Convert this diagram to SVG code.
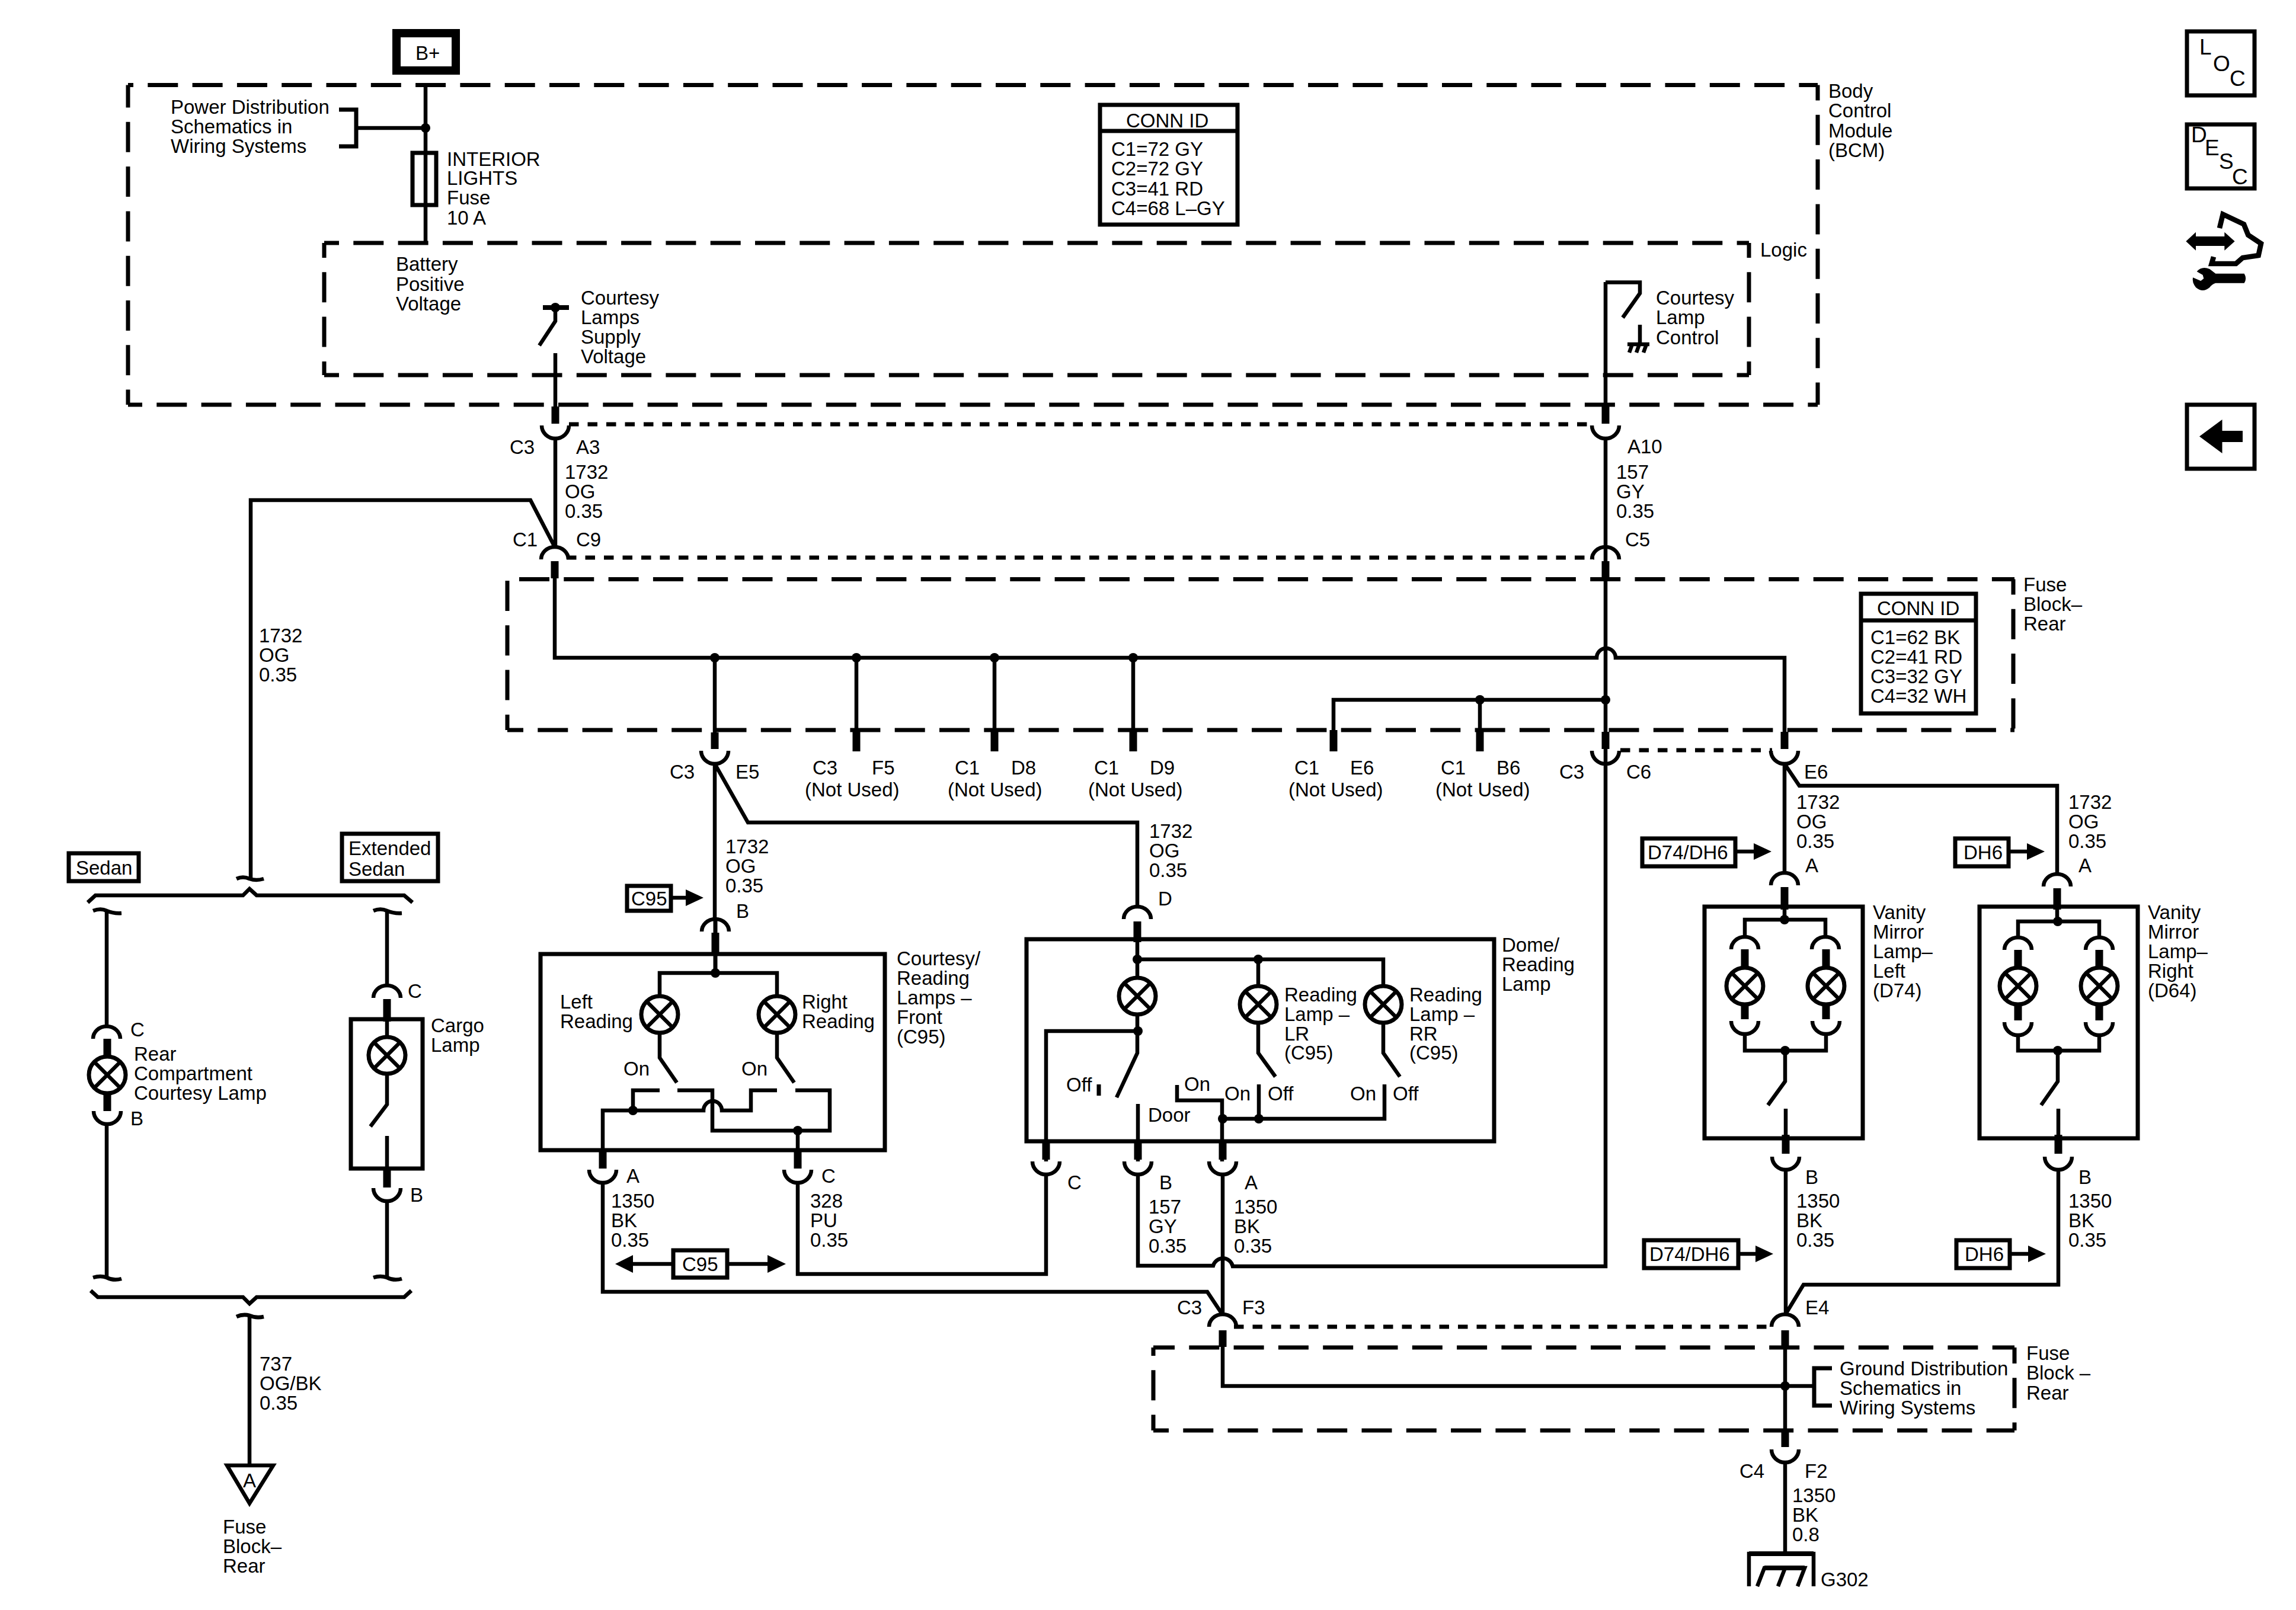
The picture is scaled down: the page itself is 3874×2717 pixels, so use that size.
<svg xmlns="http://www.w3.org/2000/svg" xmlns:xlink="http://www.w3.org/1999/xlink" width="3874" height="2717" viewBox="0 0 3874 2717">
<style>
text{font-family:"Liberation Sans",Arial,sans-serif;font-size:33px;fill:#000}
.big{font-size:37px}
.w,.w *{fill:none;stroke:#000;stroke-width:6.5;stroke-linejoin:miter}
.s{fill:none;stroke:#000;stroke-width:13}
.d{fill:none;stroke:#000;stroke-width:7;stroke-dasharray:51 24.3}
.o{fill:none;stroke:#000;stroke-width:7;stroke-dasharray:16.5 15}
.b{fill:none;stroke:#000;stroke-width:7}
.f{fill:#000;stroke:none}
.l{fill:#fff;stroke:#000;stroke-width:7}
.n{fill:none;stroke:#000;stroke-width:6.5}
</style>
<defs>
<g id="lamp"><circle r="31" class="l"/><path class="n" d="M-22,-22L22,22M22,-22L-22,22"/></g>
<path id="cap" class="n" d="M-23,21A23,21 0 0 1 23,21"/>
<path id="cup" class="n" d="M-23,0A23,22 0 0 0 23,0"/>
<circle id="dot" r="8" class="f"/>
<path id="arr" class="f" d="M0,-14L30,0L0,14Z"/>
</defs>
<rect width="3874" height="2717" fill="#fff"/>

<g id="connectors">
<g class="w">
<path d="M718,143V410M601,216H718"/>
<path d="M937,596V690"/>
<path d="M937,740V925M423,1481V844H895L936,923"/>
<path d="M2709,476V690M2709,740V2137H2080A17,17 0 0 0 2047,2136H1920V1981"/>
<path d="M936,976V1110H2694A16,16 0 0 1 2726,1110H3011V1240"/>
<path d="M2250,1240V1181H2709M2497,1181V1240"/>
<path d="M1206,1110V1240M1445,1110V1240M1678,1110V1240M1912,1110V1240"/>
<path d="M1206,1289V1552M1206,1289L1262,1388H1919V1530"/>
<path d="M3011,1289V1475M3011,1289L3036,1326H3471V1475"/>
<path d="M1017,1996V2180H2037L2063,2219M2063,1981V2219M1346,1996V2150H1765V1981"/>
<path d="M3013,1975V2219M3473,1975V2168H3043L3012,2219"/>
<path d="M2063,2270V2339H3061M3012,2270V2440M3012,2470V2622"/>
<path d="M421,1481V1483M421,2220V2470"/>
<path d="M180,1537V1732M180,1897V2156M653,1537V1662M653,2026V2156"/>
</g>
<g id="module-shorts" class="s">
<path d="M937,686V715M2709,686V715M936,947V976M2709,947V976"/>
<path d="M1206,1236V1264M1445,1232V1268M1678,1232V1268M1912,1232V1268M2250,1232V1268M2497,1232V1268M2709,1235V1264M3011,1235V1264"/>
<path d="M2063,2245V2273M3012,2245V2273M3012,2414V2442"/>
</g>
<path class="o" d="M960,716H2690"/>
<path class="o" d="M956,941H2690"/>
<path class="o" d="M2734,1266H2990"/>
<path class="o" d="M2082,2239H2992"/>
<use xlink:href="#cup" x="937" y="718"/><use xlink:href="#cup" x="2709" y="718"/>
<use xlink:href="#cap" x="936" y="923"/><use xlink:href="#cap" x="2709" y="923"/>
<use xlink:href="#cup" x="1206" y="1267"/><use xlink:href="#cup" x="2709" y="1267"/><use xlink:href="#cup" x="3011" y="1267"/>
<use xlink:href="#cap" x="2063" y="2218"/><use xlink:href="#cap" x="3012" y="2218"/>
<use xlink:href="#cup" x="3012" y="2446"/>
<use xlink:href="#dot" x="718" y="216"/>
<use xlink:href="#dot" x="1206" y="1110"/><use xlink:href="#dot" x="1445" y="1110"/><use xlink:href="#dot" x="1678" y="1110"/><use xlink:href="#dot" x="1912" y="1110"/>
<use xlink:href="#dot" x="2497" y="1181"/><use xlink:href="#dot" x="2709" y="1181"/><use xlink:href="#dot" x="3012" y="2339"/>
</g>

<g id="b-plus"><rect x="669" y="56" width="100" height="63" class="b" style="stroke-width:14"/><text x="701" y="101">B+</text></g>

<g id="bcm">
<path class="d" style="stroke-dashoffset:42" d="M216,143.500H3067"/>
<path class="d" style="stroke-dashoffset:13" d="M216,143.500V683"/>
<path class="d" style="stroke-dashoffset:27" d="M216,683H3067"/>
<path class="d" style="stroke-dashoffset:25" d="M3067,143.500V683"/>
<text x="3085" y="165">Body</text><text x="3085" y="198">Control</text><text x="3085" y="232">Module</text><text x="3085" y="265">(BCM)</text>
</g>
<g id="logic">
<path class="d" style="stroke-dashoffset:26" d="M547,410H2951"/>
<path class="d" style="stroke-dashoffset:26" d="M547,410V633"/>
<path class="d" style="stroke-dashoffset:26" d="M547,633H2951"/>
<path class="d" style="stroke-dashoffset:26" d="M2951,410V633"/>
<text x="2970" y="433">Logic</text>
<text x="668" y="457">Battery</text><text x="668" y="491">Positive</text><text x="668" y="524">Voltage</text>
</g>
<g id="power-dist">
<path class="n" d="M572,185H601V247H572" style="stroke-width:7"/>
<text x="288" y="192">Power Distribution</text><text x="288" y="225">Schematics in</text><text x="288" y="258">Wiring Systems</text>
</g>
<g id="fuse">
<rect x="696" y="258" width="40" height="88" class="b"/>
<text x="754" y="280">INTERIOR</text><text x="754" y="312">LIGHTS</text><text x="754" y="345">Fuse</text><text x="754" y="379">10 A</text>
</g>
<g id="supply-switch">
<path class="n" d="M916,519H960" style="stroke-width:8"/><path class="n" d="M937,519V542L910,583"/>
<use xlink:href="#dot" x="937" y="519"/>
<text x="980" y="514">Courtesy</text><text x="980" y="547">Lamps</text><text x="980" y="580">Supply</text><text x="980" y="613">Voltage</text>
</g>
<g id="control-switch">
<path class="n" d="M2709,476.500H2767V495L2738,536M2767,548V581M2746,581H2783M2754,581L2749,595M2766,581L2761,595M2778,581L2773,595"/>
<text x="2794" y="514">Courtesy</text><text x="2794" y="547">Lamp</text><text x="2794" y="581">Control</text>
</g>
<g id="conn-id-bcm">
<rect x="1856" y="177" width="232" height="202" class="b"/><path class="b" d="M1856,221H2088"/>
<text x="1900" y="215">CONN ID</text><text x="1875" y="263">C1=72 GY</text><text x="1875" y="296">C2=72 GY</text><text x="1875" y="330">C3=41 RD</text><text x="1875" y="363">C4=68 L–GY</text>
</g>
<g id="icons">
<rect x="3690" y="53" width="114" height="108" class="b"/>
<text class="big" x="3711" y="92">L</text><text class="big" x="3734" y="120">O</text><text class="big" x="3762" y="145">C</text>
<rect x="3690" y="210" width="114" height="108" class="b"/>
<text class="big" x="3697" y="240">D</text><text class="big" x="3720" y="262">E</text><text class="big" x="3744" y="285">S</text><text class="big" x="3766" y="311">C</text>
<g transform="translate(3660,330) scale(0.3333)">
<path class="f" d="M85,232L135,185V207H280V185L332,232L280,278V255H135V278Z"/>
<path fill="none" stroke="#000" stroke-width="26" d="M255,165L272,95L378,145L400,200L465,243L452,303L372,315L338,345H215L225,310"/>
<path class="f" d="M140,385Q165,355 205,372L235,395H380Q395,420 380,443H235Q215,450 205,465Q170,495 135,465Q115,440 120,415L160,432L175,420L170,402Z"/>
</g>
<rect x="3690" y="683" width="114" height="108" class="b"/>
<path class="f" d="M3711,736.500L3749.500,708V727H3784V746H3749.500V765Z"/>
</g>

<g id="labels-top">
<text x="860" y="766">C3</text><text x="972" y="766">A3</text>
<text x="953" y="808">1732</text><text x="953" y="841">OG</text><text x="953" y="874">0.35</text>
<text x="2746" y="765">A10</text>
<text x="2727" y="808">157</text><text x="2727" y="841">GY</text><text x="2727" y="874">0.35</text>
<text x="865" y="922">C1</text><text x="972" y="922">C9</text><text x="2742" y="922">C5</text>
<text x="437" y="1084">1732</text><text x="437" y="1117">OG</text><text x="437" y="1150">0.35</text>
</g>

<g id="fuse-block-rear">
<path class="d" d="M876,977.500H3399"/>
<path class="d" d="M856,980V1232"/>
<path class="d" style="stroke-dashoffset:24" d="M856,1232H3399"/>
<path class="d" style="stroke-dashoffset:25" d="M3397,977.500V1232"/>
<text x="3414" y="998">Fuse</text><text x="3414" y="1031">Block–</text><text x="3414" y="1064">Rear</text>
</g>
<g id="conn-id-fuse">
<rect x="3140" y="1002" width="194" height="202" class="b"/><path class="b" d="M3140,1047H3334"/>
<text x="3167" y="1038">CONN ID</text><text x="3156" y="1087">C1=62 BK</text><text x="3156" y="1120">C2=41 RD</text><text x="3156" y="1153">C3=32 GY</text><text x="3156" y="1186">C4=32 WH</text>
</g>
<g id="not-used">
<text x="1130" y="1314">C3</text><text x="1241" y="1314">E5</text>
<text x="1371" y="1307">C3</text><text x="1471" y="1307">F5</text><text x="1358" y="1344">(Not Used)</text>
<text x="1611" y="1307">C1</text><text x="1706" y="1307">D8</text><text x="1599" y="1344">(Not Used)</text>
<text x="1846" y="1307">C1</text><text x="1940" y="1307">D9</text><text x="1836" y="1344">(Not Used)</text>
<text x="2184" y="1307">C1</text><text x="2278" y="1307">E6</text><text x="2174" y="1344">(Not Used)</text>
<text x="2431" y="1307">C1</text><text x="2525" y="1307">B6</text><text x="2422" y="1344">(Not Used)</text>
<text x="2631" y="1314">C3</text><text x="2744" y="1314">C6</text><text x="3044" y="1314">E6</text>
</g>

<g id="courtesy-front">
<use xlink:href="#cap" x="1207" y="1551"/>
<path class="s" d="M1207,1574V1610"/>
<path class="b" d="M1207,1552V1642"/>
<rect x="912" y="1610" width="581" height="331" class="b"/>
<path class="n" d="M1113,1680V1642H1311V1680M1113,1744V1785L1142,1827M1311,1744V1785L1340,1827"/>
<use xlink:href="#dot" x="1207" y="1642"/>
<use xlink:href="#lamp" x="1113" y="1712"/><use xlink:href="#lamp" x="1311" y="1712"/>
<path class="n" d="M1017,1950V1874H1187A15.500,16 0 0 1 1218,1874H1267V1840H1311M1068,1874V1840H1113M1143,1840H1202V1908H1400V1840H1342M1346,1908V1950"/>
<use xlink:href="#dot" x="1068" y="1874"/><use xlink:href="#dot" x="1346" y="1908"/>
<path class="s" d="M1017,1941V1972M1346,1941V1972"/>
<use xlink:href="#cup" x="1017" y="1974"/><use xlink:href="#cup" x="1346" y="1974"/>
<text x="945" y="1702">Left</text><text x="945" y="1735">Reading</text>
<text x="1353" y="1702">Right</text><text x="1353" y="1735">Reading</text>
<text x="1052" y="1815">On</text><text x="1251" y="1815">On</text>
<text x="1513" y="1629">Courtesy/</text><text x="1513" y="1662">Reading</text><text x="1513" y="1695">Lamps –</text><text x="1513" y="1728">Front</text><text x="1513" y="1761">(C95)</text>
<text x="1224" y="1440">1732</text><text x="1224" y="1473">OG</text><text x="1224" y="1506">0.35</text><text x="1242" y="1549">B</text>
<text x="1057" y="1996">A</text><text x="1386" y="1996">C</text>
<text x="1031" y="2038">1350</text><text x="1031" y="2071">BK</text><text x="1031" y="2104">0.35</text>
<text x="1367" y="2038">328</text><text x="1367" y="2071">PU</text><text x="1367" y="2104">0.35</text>
</g>
<g id="option-c95-top">
<rect x="1058" y="1495" width="74" height="42" class="b"/><text x="1065" y="1528">C95</text>
<path class="n" d="M1134,1515H1160"/><use xlink:href="#arr" x="1157" y="1515"/>
</g>
<g id="option-c95-both">
<rect x="1136" y="2110" width="91" height="46" class="b"/><text x="1151" y="2145">C95</text>
<path class="n" d="M1068,2133H1133M1227,2133H1295"/>
<path class="f" d="M1038,2133L1068,2118V2148ZM1326,2133L1295,2118V2148Z"/>
</g>

<g id="dome">
<use xlink:href="#cap" x="1919" y="1530"/>
<path class="s" d="M1919,1555V1590"/>
<rect x="1732" y="1585" width="789" height="341" class="b"/>
<path class="n" d="M1919,1590V1650M1919,1712V1777L1884,1852M1920,1740H1765V1960M1920,1863V1960M1919,1619H2334V1664M2123,1619V1664M2123,1726V1777L2152,1817M2334,1726V1777L2362,1817"/>
<use xlink:href="#dot" x="1919" y="1619"/><use xlink:href="#dot" x="2123" y="1619"/><use xlink:href="#dot" x="1920" y="1740"/>
<use xlink:href="#lamp" x="1919" y="1681"/><use xlink:href="#lamp" x="2123" y="1695"/><use xlink:href="#lamp" x="2334" y="1695"/>
<path class="n" d="M1854,1830V1849" style="stroke-width:7"/>
<path class="n" d="M1986,1831V1857H2062V1960M2063,1888H2336V1830M2124,1888V1830"/>
<use xlink:href="#dot" x="2063" y="1888"/><use xlink:href="#dot" x="2124" y="1888"/>
<path class="s" d="M1765,1926V1957M1920,1926V1957M2063,1926V1957"/>
<use xlink:href="#cup" x="1765" y="1960"/><use xlink:href="#cup" x="1920" y="1960"/><use xlink:href="#cup" x="2063" y="1960"/>
<text x="2167" y="1690">Reading</text><text x="2167" y="1723">Lamp –</text><text x="2167" y="1756">LR</text><text x="2167" y="1788">(C95)</text>
<text x="2378" y="1690">Reading</text><text x="2378" y="1723">Lamp –</text><text x="2378" y="1756">RR</text><text x="2378" y="1788">(C95)</text>
<text x="1799" y="1842">Off</text><text x="1998" y="1841">On</text><text x="2066" y="1857">On</text><text x="2139" y="1857">Off</text><text x="2278" y="1857">On</text><text x="2350" y="1857">Off</text>
<text x="1937" y="1893">Door</text>
<text x="2534" y="1606">Dome/</text><text x="2534" y="1639">Reading</text><text x="2534" y="1672">Lamp</text>
<text x="1939" y="1414">1732</text><text x="1939" y="1447">OG</text><text x="1939" y="1480">0.35</text><text x="1954" y="1528">D</text>
<text x="1801" y="2007">C</text><text x="1956" y="2007">B</text><text x="2100" y="2007">A</text>
<text x="1938" y="2048">157</text><text x="1938" y="2081">GY</text><text x="1938" y="2114">0.35</text>
<text x="2082" y="2048">1350</text><text x="2082" y="2081">BK</text><text x="2082" y="2114">0.35</text>
</g>

<g id="vanity-left">
<use xlink:href="#cap" x="3011" y="1473"/>
<path class="s" d="M3011,1497V1535"/>
<rect x="2876" y="1530" width="267" height="391" class="b"/>
<path class="n" d="M3011,1530V1552M2944,1581V1552H3080V1581M2944,1745V1773H3081V1745M3012,1773V1825L2983,1865M3013,1871V1925"/>
<use xlink:href="#dot" x="3011" y="1552"/><use xlink:href="#dot" x="3012" y="1773"/>
<use xlink:href="#cap" x="2944" y="1581"/><use xlink:href="#cap" x="3080" y="1581"/>
<path class="s" d="M2944,1602V1640M3081,1602V1640M2944,1690V1720M3081,1690V1720"/>
<use xlink:href="#lamp" x="2944" y="1664"/><use xlink:href="#lamp" x="3081" y="1664"/>
<use xlink:href="#cup" x="2944" y="1723"/><use xlink:href="#cup" x="3081" y="1723"/>
<path class="s" d="M3013,1915V1947"/>
<use xlink:href="#cup" x="3013" y="1952"/>
<text x="3160" y="1551">Vanity</text><text x="3160" y="1584">Mirror</text><text x="3160" y="1617">Lamp–</text><text x="3160" y="1650">Left</text><text x="3160" y="1683">(D74)</text>
<text x="3031" y="1365">1732</text><text x="3031" y="1398">OG</text><text x="3031" y="1431">0.35</text><text x="3046" y="1472">A</text>
<text x="3046" y="1998">B</text><text x="3031" y="2038">1350</text><text x="3031" y="2071">BK</text><text x="3031" y="2104">0.35</text>
</g>
<g id="vanity-right">
<use xlink:href="#cap" x="3471" y="1475"/>
<path class="s" d="M3471,1499V1535"/>
<rect x="3340" y="1530" width="267" height="391" class="b"/>
<path class="n" d="M3471,1530V1555M3405,1583V1555H3542V1583M3405,1745V1773H3542V1745M3472,1773V1825L3444,1865M3473,1871V1925"/>
<use xlink:href="#dot" x="3472" y="1555"/><use xlink:href="#dot" x="3472" y="1773"/>
<use xlink:href="#cap" x="3405" y="1582"/><use xlink:href="#cap" x="3542" y="1582"/>
<path class="s" d="M3405,1603V1640M3542,1603V1640M3405,1690V1722M3542,1690V1722"/>
<use xlink:href="#lamp" x="3405" y="1664"/><use xlink:href="#lamp" x="3542" y="1664"/>
<use xlink:href="#cup" x="3405" y="1725"/><use xlink:href="#cup" x="3542" y="1725"/>
<path class="s" d="M3473,1915V1947"/>
<use xlink:href="#cup" x="3473" y="1952"/>
<text x="3624" y="1551">Vanity</text><text x="3624" y="1584">Mirror</text><text x="3624" y="1617">Lamp–</text><text x="3624" y="1650">Right</text><text x="3624" y="1683">(D64)</text>
<text x="3490" y="1365">1732</text><text x="3490" y="1398">OG</text><text x="3490" y="1431">0.35</text><text x="3507" y="1472">A</text>
<text x="3507" y="1998">B</text><text x="3490" y="2038">1350</text><text x="3490" y="2071">BK</text><text x="3490" y="2104">0.35</text>
</g>
<g id="options-right">
<rect x="2771" y="1415" width="157" height="47" class="b"/><text x="2780" y="1450">D74/DH6</text>
<path class="n" d="M2931,1437H2962"/><use xlink:href="#arr" x="2959" y="1437"/>
<rect x="3299" y="1415" width="90" height="47" class="b"/><text x="3313" y="1450">DH6</text>
<path class="n" d="M3392,1437H3423"/><use xlink:href="#arr" x="3420" y="1437"/>
<rect x="2774" y="2093" width="159" height="47" class="b"/><text x="2783" y="2128">D74/DH6</text>
<path class="n" d="M2936,2116H2965"/><use xlink:href="#arr" x="2962" y="2116"/>
<rect x="3301" y="2093" width="90" height="47" class="b"/><text x="3315" y="2128">DH6</text>
<path class="n" d="M3394,2116H3425"/><use xlink:href="#arr" x="3422" y="2116"/>
</g>

<g id="ground-block">
<path class="d" style="stroke-dashoffset:15" d="M1946,2274H3399"/>
<path class="d" style="stroke-dashoffset:37" d="M1946,2274V2414"/>
<path class="d" style="stroke-dashoffset:25" d="M1946,2414H3399"/>
<path class="d" style="stroke-dashoffset:24" d="M3399,2274V2414"/>
<path class="n" d="M3091,2309H3061V2372H3091" style="stroke-width:7"/>
<text x="3104" y="2321">Ground Distribution</text><text x="3104" y="2354">Schematics in</text><text x="3104" y="2387">Wiring Systems</text>
<text x="3419" y="2295">Fuse</text><text x="3419" y="2328">Block –</text><text x="3419" y="2362">Rear</text>
<text x="1986" y="2218">C3</text><text x="2096" y="2218">F3</text><text x="3046" y="2218">E4</text>
<text x="2935" y="2494">C4</text><text x="3045" y="2494">F2</text>
<text x="3024" y="2535">1350</text><text x="3024" y="2568">BK</text><text x="3024" y="2601">0.8</text>
</g>
<g id="g302">
<path class="n" d="M2951,2677V2622H3060V2677M2965,2677L2977,2646H3045L3033,2677M3012,2646L3000,2677"/>
<path class="n" d="M2951,2622H3060M2977,2646H3045" style="stroke-width:8"/>
<text x="3072" y="2677">G302</text>
</g>

<g id="sedan-block">
<rect x="116" y="1440" width="118" height="47" class="b"/><text x="128" y="1476">Sedan</text>
<rect x="577" y="1407" width="162" height="80" class="b"/><text x="588" y="1443">Extended</text><text x="588" y="1478">Sedan</text>
<path class="n" d="M399,1483Q410,1478 421,1483Q432,1487 445,1483"/>
<path class="n" d="M148,1523L161,1511H410L421,1500L433,1511H682L696,1523"/>
<path class="n" d="M157,1537Q170,1532 180,1537Q192,1542 205,1541"/>
<path class="n" d="M630,1537Q642,1532 653,1537Q665,1542 678,1541"/>
<path class="n" d="M157,2156Q170,2152 180,2156Q192,2162 205,2158"/>
<path class="n" d="M630,2156Q642,2152 653,2156Q665,2162 678,2158"/>
<path class="n" d="M153,2178L165,2189H410L421,2200L433,2189H682L694,2178"/>
<path class="n" d="M399,2222Q410,2217 421,2220Q432,2225 445,2222"/>
</g>
<g id="rear-lamp">
<use xlink:href="#cap" x="180" y="1732"/>
<path class="s" d="M181,1753V1790M181,1840V1875"/>
<use xlink:href="#lamp" x="181" y="1814"/>
<use xlink:href="#cup" x="181" y="1875"/>
<text x="220" y="1749">C</text><text x="226" y="1790">Rear</text><text x="226" y="1823">Compartment</text><text x="226" y="1856">Courtesy Lamp</text><text x="220" y="1899">B</text>
</g>
<g id="cargo-lamp">
<use xlink:href="#cap" x="653" y="1663"/>
<path class="s" d="M653,1686V1724"/>
<rect x="592" y="1720" width="121" height="252" class="b"/>
<path class="n" d="M653,1724V1750M653,1812V1864L625,1901M653,1917V1975"/>
<use xlink:href="#lamp" x="653" y="1781"/>
<path class="s" d="M653,1972V2004"/>
<use xlink:href="#cup" x="653" y="2005"/>
<text x="688" y="1684">C</text><text x="727" y="1742">Cargo</text><text x="727" y="1775">Lamp</text><text x="692" y="2028">B</text>
</g>
<g id="fuse-block-ref">
<path class="n" d="M383,2473H461L421,2537Z"/>
<text x="410" y="2510">A</text>
<text x="438" y="2313">737</text><text x="438" y="2346">OG/BK</text><text x="438" y="2379">0.35</text>
<text x="376" y="2588">Fuse</text><text x="376" y="2621">Block–</text><text x="376" y="2654">Rear</text>
</g>
</svg>
